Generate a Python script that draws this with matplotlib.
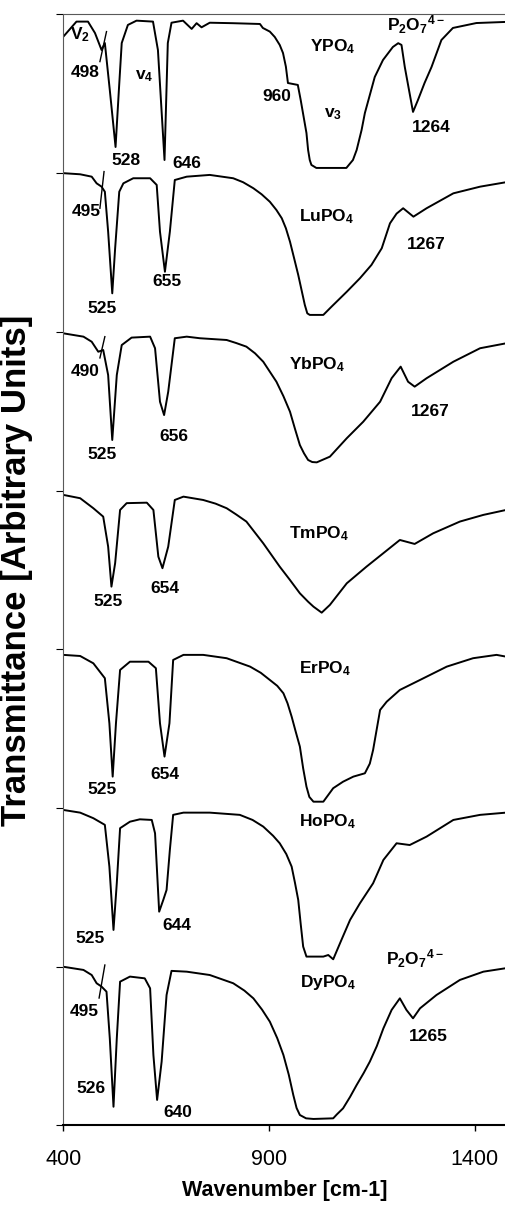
import matplotlib.pyplot as plt
import numpy as np

plt.rcParams['font.family'] = ['Liberation Sans', 'DejaVu Sans']
plt.rcParams['mathtext.fontset'] = 'custom'
plt.rcParams['mathtext.rm'] = 'Liberation Sans:bold'
plt.rcParams['mathtext.bf'] = 'Liberation Sans:bold'
plt.rcParams['mathtext.default'] = 'bf'

# IR spectra, top to bottom; transmittance in units of one stacking step
names = ['YPO4', 'LuPO4', 'YbPO4', 'TmPO4', 'ErPO4', 'HoPO4', 'DyPO4']

wn_y = [400, 432, 460, 477, 493, 501, 513, 527, 535, 542, 557, 578, 618, 630, 646, 654,
        663, 691, 712, 724, 736, 756, 812, 878, 885, 902, 914, 926, 934, 941, 946, 970,
        977, 991, 995, 999, 1003, 1015, 1088, 1104, 1113, 1125, 1133, 1157, 1177, 1201,
        1214, 1222, 1230, 1250, 1262, 1278, 1295, 1319, 1347, 1404, 1476]
t_y = [0.86, 0.955, 0.955, 0.883, 0.776, 0.82, 0.524, 0.165, 0.52, 0.82, 0.934, 0.961,
       0.955, 0.776, 0.083, 0.82, 0.948, 0.961, 0.909, 0.945, 0.919, 0.948, 0.945, 0.94,
       0.915, 0.892, 0.858, 0.808, 0.757, 0.671, 0.568, 0.556, 0.461, 0.253, 0.146, 0.083,
       0.052, 0.033, 0.033, 0.083, 0.146, 0.272, 0.379, 0.606, 0.713, 0.795, 0.819, 0.808,
       0.669, 0.386, 0.461, 0.568, 0.669, 0.839, 0.915, 0.946, 0.953]

wn_lu = [400, 441, 469, 481, 493, 501, 509, 519, 526, 536, 546, 570, 611, 627, 635, 647,
         659, 671, 700, 756, 813, 837, 862, 882, 902, 918, 931, 941, 951, 961, 971, 987,
         993, 999, 1032, 1052, 1089, 1121, 1149, 1174, 1194, 1210, 1226, 1251, 1283, 1348,
         1413, 1476]
t_lu = [1.0, 0.993, 0.978, 0.936, 0.915, 0.883, 0.631, 0.243, 0.527, 0.883, 0.936, 0.968,
        0.968, 0.926, 0.631, 0.379, 0.631, 0.957, 0.978, 0.989, 0.968, 0.943, 0.905, 0.867,
        0.82, 0.768, 0.716, 0.653, 0.568, 0.464, 0.359, 0.17, 0.117, 0.107, 0.107, 0.159,
        0.253, 0.338, 0.422, 0.527, 0.684, 0.745, 0.779, 0.726, 0.779, 0.873, 0.915, 0.943]

wn_yb = [400, 449, 469, 485, 497, 509, 519, 530, 542, 566, 611, 623, 635, 645, 655, 671,
         700, 732, 797, 820, 845, 866, 886, 918, 935, 951, 963, 975, 985, 995, 1005, 1016,
         1048, 1089, 1129, 1170, 1198, 1220, 1238, 1254, 1283, 1348, 1413, 1476]
t_yb = [0.991, 0.97, 0.938, 0.875, 0.886, 0.728, 0.319, 0.728, 0.917, 0.964, 0.97, 0.897,
        0.56, 0.476, 0.623, 0.96, 0.97, 0.96, 0.949, 0.93, 0.907, 0.865, 0.812, 0.686,
        0.595, 0.497, 0.39, 0.287, 0.235, 0.193, 0.18, 0.178, 0.214, 0.33, 0.434, 0.56,
        0.708, 0.781, 0.686, 0.655, 0.708, 0.812, 0.897, 0.928]

wn_tm = [400, 441, 473, 497, 509, 517, 526, 538, 554, 603, 619, 631, 641, 655, 671, 692,
         740, 770, 797, 820, 845, 886, 926, 950, 975, 995, 1008, 1028, 1048, 1089, 1137,
         1178, 1218, 1254, 1299, 1364, 1421, 1476]
t_tm = [0.973, 0.952, 0.889, 0.836, 0.647, 0.395, 0.543, 0.878, 0.921, 0.924, 0.878, 0.584,
        0.511, 0.647, 0.941, 0.962, 0.941, 0.918, 0.889, 0.85, 0.805, 0.668, 0.521, 0.44,
        0.353, 0.30, 0.269, 0.231, 0.28, 0.416, 0.521, 0.606, 0.689, 0.664, 0.731, 0.805,
        0.847, 0.878]

wn_er = [400, 441, 473, 501, 512, 520, 528, 538, 562, 607, 625, 635, 646, 658, 667, 692,
         740, 797, 854, 880, 902, 920, 935, 945, 955, 965, 975, 983, 991, 998, 1008, 1032,
         1056, 1080, 1105, 1133, 1145, 1153, 1170, 1186, 1218, 1267, 1332, 1396, 1453, 1476]
t_er = [0.965, 0.958, 0.912, 0.818, 0.534, 0.198, 0.534, 0.87, 0.922, 0.922, 0.881, 0.534,
        0.324, 0.534, 0.933, 0.965, 0.965, 0.944, 0.891, 0.852, 0.807, 0.77, 0.723, 0.66,
        0.576, 0.48, 0.387, 0.25, 0.135, 0.07, 0.04, 0.04, 0.125, 0.166, 0.198, 0.219,
        0.28, 0.366, 0.618, 0.67, 0.744, 0.807, 0.891, 0.944, 0.965, 0.954]

wn_ho = [400, 441, 473, 501, 512, 522, 530, 538, 562, 586, 615, 623, 633, 643, 651, 659,
         667, 692, 756, 829, 860, 886, 910, 926, 942, 955, 963, 971, 977, 983, 991, 1032,
         1044, 1056, 1076, 1097, 1121, 1153, 1178, 1210, 1242, 1283, 1348, 1413, 1476]
t_ho = [0.988, 0.971, 0.936, 0.894, 0.631, 0.232, 0.526, 0.873, 0.914, 0.929, 0.925, 0.841,
        0.347, 0.421, 0.484, 0.736, 0.957, 0.971, 0.971, 0.957, 0.925, 0.883, 0.825, 0.778,
        0.71, 0.631, 0.53, 0.421, 0.27, 0.127, 0.064, 0.064, 0.074, 0.047, 0.169, 0.295,
        0.4, 0.526, 0.673, 0.778, 0.767, 0.82, 0.925, 0.957, 0.971]

wn_dy = [400, 449, 469, 481, 493, 505, 513, 522, 530, 538, 562, 598, 611, 619, 628, 639,
         651, 663, 700, 756, 813, 840, 862, 883, 902, 920, 935, 948, 959, 967, 975, 990,
         1008, 1056, 1065, 1080, 1097, 1113, 1130, 1145, 1162, 1178, 1198, 1218, 1234,
         1250, 1267, 1307, 1364, 1421, 1476]
t_dy = [1.0, 0.98, 0.948, 0.896, 0.875, 0.843, 0.549, 0.118, 0.549, 0.906, 0.938, 0.927,
        0.864, 0.444, 0.161, 0.402, 0.822, 0.974, 0.969, 0.948, 0.896, 0.85, 0.801, 0.73,
        0.654, 0.55, 0.444, 0.32, 0.192, 0.11, 0.066, 0.045, 0.041, 0.045, 0.07, 0.108,
        0.18, 0.255, 0.33, 0.402, 0.5, 0.612, 0.728, 0.801, 0.728, 0.675, 0.738, 0.822,
        0.917, 0.969, 0.991]

wavenumbers = [wn_y, wn_lu, wn_yb, wn_tm, wn_er, wn_ho, wn_dy]
transmittance = [t_y, t_lu, t_yb, t_tm, t_er, t_ho, t_dy]

# peak / compound annotations (wavenumber, stacked y)
label_text = ['V$_2$', '498', 'v$_4$', '528', '646', 'YPO$_4$', 'P$_2$O$_7$$^{4-}$', '960',
              'v$_3$', '1264',
              '495', '525', '655', 'LuPO$_4$', '1267',
              '490', '525', '656', 'YbPO$_4$', '1267',
              '525', '654', 'TmPO$_4$',
              '525', '654', 'ErPO$_4$',
              '525', '644', 'HoPO$_4$', 'P$_2$O$_7$$^{4-}$',
              '495', '526', '640', 'DyPO$_4$', '1265']
label_wn = [441, 454, 596, 552, 700, 1054, 1257, 918, 1055, 1295,
            455, 493, 651, 1040, 1283,
            454, 493, 668, 1017, 1291,
            509, 648, 1021,
            493, 648, 1036,
            466, 675, 1043, 1254,
            452, 468, 679, 1043, 1288]
label_y = [6.871, 6.635, 6.614, 6.077, 6.058, 6.798, 6.934, 6.483, 6.374, 6.285,
           5.758, 5.149, 5.317, 5.727, 5.548,
           4.748, 4.225, 4.340, 4.792, 4.500,
           3.301, 3.385, 3.727,
           2.114, 2.209, 2.877,
           1.180, 1.263, 1.914, 1.049,
           0.717, 0.234, 0.082, 0.901, 0.560]

# short slanted marks through the ~495 shoulder
mark_wn = [(489, 505), (489, 499), (489, 501), (487, 501)]
mark_y = [(6.703, 6.892), (5.779, 6.010), (4.836, 4.970), (0.803, 1.011)]

fig = plt.figure(figsize=(5.06, 12.05), dpi=100)
ax = fig.add_axes([0.1251, 0.066, 0.8749, 0.922])

n = len(names)
for i in range(n):
    y = (n - 1 - i) + np.array(transmittance[i])
    ax.plot(wavenumbers[i], y, color='black', lw=1.4, solid_joinstyle='round')

for xs, ys in zip(mark_wn, mark_y):
    ax.plot(xs, ys, color='black', lw=1.0)

for s, x, y in zip(label_text, label_wn, label_y):
    ax.text(x, y, s, fontsize=12.5, fontweight='bold', ha='center', va='center')

ax.set_xlim(400, 1476)
ax.set_ylim(0, 7)
ax.set_xticks([400, 900, 1400])
ax.set_yticks(np.arange(0, 8))
ax.set_yticklabels([])
ax.tick_params(axis='x', direction='out', length=4, width=1, labelsize=15.5, pad=13)
ax.tick_params(axis='y', direction='out', length=5, width=0.8)

ax.spines['right'].set_visible(False)
for side in ['left', 'top']:
    ax.spines[side].set_color('0.35')
    ax.spines[side].set_linewidth(0.8)
    ax.spines[side].set_linestyle((0, (1, 1)))
ax.spines['bottom'].set_linewidth(1.5)

ax.set_xlabel('Wavenumber [cm-1]', fontsize=15.5, fontweight='bold', labelpad=7)
ax.set_ylabel('Transmittance [Arbitrary Units]', fontsize=25, fontweight='bold')
ax.yaxis.set_label_coords(-0.068, 0.5)

fig.savefig('out.png', dpi=100)
